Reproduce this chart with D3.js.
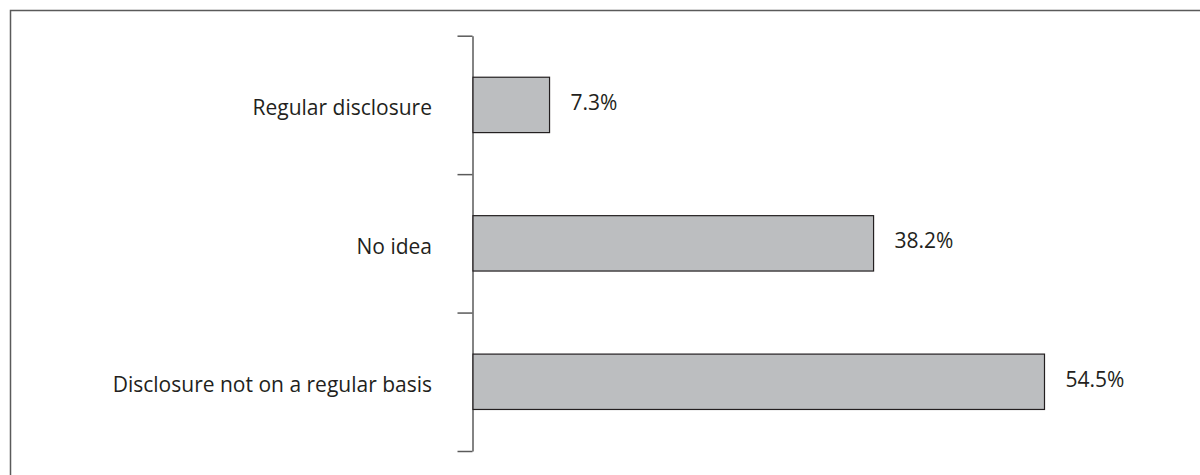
<!DOCTYPE html>
<html>
<head>
<meta charset="utf-8">
<script src="https://cdn.jsdelivr.net/npm/d3@7"></script>
<style>
  html, body { margin: 0; padding: 0; background: #ffffff; }
  svg { display: block; }
  text { font-family: "Open Sans", Lato, sans-serif; fill: #231f20; }
</style>
</head>
<body>
<svg id="chart" width="1200" height="475"></svg>
<script>
// Survey responses on disclosure practice (share of respondents, %)
const categories = ["Regular disclosure", "No idea", "Disclosure not on a regular basis"];
const shares = [7.3, 38.2, 54.5];
const valueLabels = ["7.3%", "38.2%", "54.5%"];

const svg = d3.select("#chart");

// Outer frame (only its top and left edges fall inside the view)
svg.append("rect")
  .attr("x", 10.5).attr("y", 10.5)
  .attr("width", 1300).attr("height", 600)
  .attr("fill", "none")
  .attr("stroke", "#5a5a5a")
  .attr("stroke-width", 1.5);

const axisX = 473;
const plotTop = 35.7, plotBottom = 451;

const x = d3.scaleLinear().domain([0, 54.5]).range([axisX, 1044.5]);
const y = d3.scaleBand()
  .domain(categories)
  .range([plotTop, plotBottom])
  .paddingInner(0.6)
  .paddingOuter(0.3);

// Category axis: vertical line with ticks at the band boundaries
const tickScale = d3.scaleLinear().domain([0, categories.length]).range([plotTop, plotBottom]);
const axis = d3.axisLeft(tickScale)
  .tickValues(d3.range(categories.length + 1))
  .tickFormat("")
  .tickSize(15)
  .tickSizeOuter(0);
const gAxis = svg.append("g")
  .attr("transform", `translate(${axisX - 0.5},0)`)
  .call(axis);
gAxis.selectAll("path, line").attr("stroke", "#5a5a5a").attr("stroke-width", 1.5);

// Bars
svg.append("g").selectAll("rect")
  .data(shares)
  .join("rect")
  .attr("x", x(0))
  .attr("y", (d, i) => y(categories[i]))
  .attr("width", d => x(d) - x(0))
  .attr("height", y.bandwidth())
  .attr("fill", "#bcbec0")
  .attr("stroke", "#231f20")
  .attr("stroke-width", 1.2);

// Category labels
svg.append("g").selectAll("text")
  .data(categories)
  .join("text")
  .attr("x", axisX - 41)
  .attr("y", d => y(d) + y.bandwidth() / 2 + 10.5)
  .attr("text-anchor", "end")
  .attr("font-size", 21)
  .text(d => d);

// Value labels
svg.append("g").selectAll("text")
  .data(shares)
  .join("text")
  .attr("x", d => x(d) + 21)
  .attr("y", (d, i) => y(categories[i]) + y.bandwidth() / 2 + 5)
  .attr("font-size", 21)
  .text((d, i) => valueLabels[i]);
</script>
</body>
</html>
